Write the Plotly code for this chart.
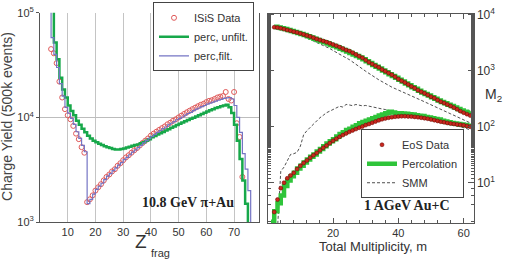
import plotly.graph_objects as go

W, H = 507, 265

# ---------------- left panel data ----------------
isis_z = list(range(4, 74))
isis_y = [45000, 41000, 33000, 22000, 15500, 12000, 10500, 9600, 8300, 7000,
          6200, 5200, 4600, 1550, 1650, 1800, 2000, 2150, 2300, 2500,
          2700, 2850, 3050, 3200, 3450, 3650, 3900, 4150, 4350, 4600,
          4850, 5100, 5400, 5700, 6000, 6300, 6700, 7000, 7300, 7600,
          7900, 8200, 8600, 8900, 9300, 9600, 10000, 10400, 10800, 11200,
          11600, 12000, 12400, 12800, 13200, 13500, 14000, 14400, 14600, 15000,
          15500, 15800, 16000, 17500, 15000, 14500, 17500, 8800, 6500, 2700]

unf_z = list(range(4, 76))
unf_y = [200000, 52000, 36000, 24000, 18500, 15500, 13000, 11500, 10500, 9300,
         8500, 7800, 7200, 6700, 6300, 6000, 5800, 5600, 5450, 5300,
         5200, 5100, 5000, 4950, 4950, 5000, 5050, 5150, 5250, 5350,
         5450, 5500, 5650, 5800, 6000, 6200, 6450, 6650, 6850, 7050,
         7250, 7500, 7700, 7950, 8200, 8450, 8700, 8950, 9200, 9450,
         9700, 9950, 10200, 10500, 10800, 11100, 11400, 11700, 12000, 12300,
         12500, 12800, 13000, 13200, 12500, 11000, 8500, 6000, 4000, 2500,
         1500, 800]

filt_z = list(range(3, 77))
filt_y = [200000, 58000, 40000, 30000, 21000, 16000, 12500, 11000, 9800, 8600,
          7300, 6300, 5400, 4700, 1500, 1650, 1850, 2050, 2200, 2350,
          2550, 2750, 2900, 3100, 3300, 3500, 3700, 3950, 4150, 4400,
          4650, 4900, 5150, 5400, 5700, 6000, 6300, 6600, 6900, 7200,
          7500, 7800, 8100, 8500, 8800, 9100, 9500, 9800, 10100, 10500,
          10900, 11200, 11600, 12000, 12300, 12700, 13000, 13400, 13700, 14000,
          14300, 14600, 14900, 15200, 15400, 15500, 15000, 13000, 10000, 7200,
          4500, 3200, 2000, 800]

# ---------------- right panel data ----------------
m = list(range(2, 63))
eos_up = [6000, 5900, 5750, 5550, 5350, 5200, 5000, 4850, 4650, 4450,
          4250, 4100, 3900, 3700, 3550, 3400, 3250, 3100, 2950, 2800,
          2650, 2500, 2350, 2250, 2100, 1950, 1820, 1700, 1550, 1420,
          1320, 1230, 1150, 1050, 980, 910, 850, 780, 710, 660,
          615, 570, 525, 490, 450, 420, 395, 370, 345, 325,
          300, 280, 265, 250, 235, 220, 205, 190, 178, 168, 158]
perc_up = [6100, 5950, 5750, 5550, 5350, 5150, 4950, 4750, 4550, 4350,
           4150, 3950, 3750, 3550, 3380, 3220, 3060, 2900, 2760, 2620,
           2480, 2340, 2200, 2080, 1960, 1840, 1720, 1600, 1480, 1370,
           1270, 1180, 1100, 1010, 940, 870, 810, 750, 690, 640,
           595, 550, 510, 475, 440, 410, 385, 360, 335, 315,
           295, 278, 262, 248, 234, 220, 208, 196, 186, 180, 190]
smm_up = [6000, 5800, 5600, 5420, 5250, 5000, 4800, 4600, 4350, 4100,
          3900, 3680, 3450, 3200, 3000, 2850, 2700, 2500, 2300, 2150,
          2000, 1850, 1700, 1580, 1450, 1320, 1200, 1080, 980, 890,
          810, 750, 690, 640, 590, 550, 510, 480, 450, 425,
          400, 375, 355, 335, 315, 297, 280, 265, 250, 235,
          220, 207, 195, 182, 170, 160, 150, 141, 132, 124, 117]
eos_lo = [3.0, 5.0, 8.0, 10, 12, 13.5, 15, 17.5, 20, 22.5,
          25, 28, 31, 34, 38, 42, 46, 51, 56, 61,
          66, 71, 76, 81, 86, 91, 96, 101, 107, 112,
          118, 124, 130, 136, 141, 145, 148, 151, 153, 154,
          154, 153, 152, 150, 148, 145, 142, 139, 135, 131,
          127, 123, 120, 117, 114, 112, 110, 108, 106, 103, 100]
perc_lo_m = list(range(1, 63))
perc_lo = [2.0, 3.1, 4.3, 5.9, 8.7, 11, 13, 15, 18, 20,
           23, 26, 29, 32, 36, 40, 45, 50, 55, 60,
           67, 74, 80, 87, 92, 100, 106, 115, 122, 128,
           135, 142, 150, 158, 166, 175, 185, 180, 175, 174,
           172, 170, 168, 165, 160, 157, 155, 150, 146, 142,
           138, 134, 128, 124, 120, 117, 114, 112, 110, 107, 104, 100]
smm_lo_m = list(range(3, 63))
smm_lo = [1.5, 16, 19, 25, 32, 33, 35, 45, 72, 85,
          98, 112, 128, 145, 160, 178, 190, 205, 218, 232,
          225, 250, 245, 238, 250, 242, 236, 240, 232, 226,
          220, 214, 208, 203, 198, 192, 186, 180, 175, 170,
          165, 160, 155, 151, 147, 142, 138, 133, 129, 125,
          121, 117, 113, 109, 106, 102, 99, 96, 92, 88]

left_yticks = [1000, 10000, 100000]
left_yticktext = ["10<sup>3</sup>", "10<sup>4</sup>", "10<sup>5</sup>"]
left_xticks = [10, 20, 30, 40, 50, 60, 70]
right_yticks = [10, 100, 1000, 10000]
right_yticktext = ["10<sup>1</sup>", "10<sup>2</sup>", "10<sup>3</sup>", "10<sup>4</sup>"]
right_xticks = [20, 40, 60]


def px(x):
    return x / W


def py(y):
    return 1 - y / H


GREEN = "#17a84a"
BLUE = "#7474c4"
RED = "#e05a5a"
PGREEN = "#2fc43a"
fig = go.Figure()

# left traces
fig.add_trace(go.Scatter(x=isis_z, y=isis_y, mode="markers", name="ISiS Data",
                         marker=dict(symbol="circle-open", size=5, color=RED, line=dict(width=1)),
                         xaxis="x", yaxis="y", legend="legend"))
fig.add_trace(go.Scatter(x=unf_z, y=unf_y, mode="lines", name="perc, unfilt.",
                         line=dict(color=GREEN, width=2.5, shape="hv"),
                         xaxis="x", yaxis="y", legend="legend"))
fig.add_trace(go.Scatter(x=filt_z, y=filt_y, mode="lines", name="perc,filt.",
                         line=dict(color=BLUE, width=1.2, shape="hv"),
                         xaxis="x", yaxis="y", legend="legend"))

# right traces
fig.add_trace(go.Scatter(x=m, y=smm_up, mode="lines", name="SMM", showlegend=False,
                         line=dict(color="#222", width=0.8, dash="3px,2px"),
                         xaxis="x2", yaxis="y2", legend="legend2"))
fig.add_trace(go.Scatter(x=smm_lo_m, y=smm_lo, mode="lines", name="SMM",
                         line=dict(color="#222", width=0.8, dash="3px,2px"),
                         xaxis="x2", yaxis="y2", legend="legend2"))
fig.add_trace(go.Scatter(x=m, y=perc_up, mode="lines", name="Percolation", showlegend=False,
                         line=dict(color=PGREEN, width=4.5, shape="hv"),
                         xaxis="x2", yaxis="y2", legend="legend2"))
fig.add_trace(go.Scatter(x=perc_lo_m, y=perc_lo, mode="lines", name="Percolation",
                         line=dict(color=PGREEN, width=4.5, shape="hv"),
                         xaxis="x2", yaxis="y2", legend="legend2"))
fig.add_trace(go.Scatter(x=m, y=eos_up, mode="markers", name="EoS Data", showlegend=False,
                         marker=dict(symbol="circle", size=4, color="#c8281e", line=dict(width=0.5, color="#600")),
                         xaxis="x2", yaxis="y2", legend="legend2"))
fig.add_trace(go.Scatter(x=m, y=eos_lo, mode="markers", name="EoS Data",
                         marker=dict(symbol="circle", size=4, color="#c8281e", line=dict(width=0.5, color="#600")),
                         xaxis="x2", yaxis="y2", legend="legend2"))

FONT = "Liberation Sans, Arial, sans-serif"
AX = "#555"
fig.update_layout(
    width=W, height=H, margin=dict(l=0, r=0, t=0, b=0),
    paper_bgcolor="white", plot_bgcolor="white",
    font=dict(family=FONT, size=11, color="#333"),
    xaxis=dict(domain=[px(40), px(259)], range=[0, 79], tickvals=left_xticks,
               showgrid=True, gridcolor="#c4c4c4", gridwidth=1, zeroline=False,
               showline=True, linecolor=AX, linewidth=1, mirror=False, ticks="",
               tickfont=dict(size=11), anchor="y", ticklabeloverflow="allow"),
    yaxis=dict(domain=[py(226), py(5)], type="log", range=[3, 5.0005],
               tickvals=left_yticks, ticktext=left_yticktext,
               showgrid=True, gridcolor="#bdbdbd", zeroline=False,
               showline=True, linecolor=AX, linewidth=1, mirror=True,
               ticks="outside", ticklen=3, tickcolor=AX,
               tickfont=dict(size=11), anchor="x", ticklabeloverflow="allow"),
    xaxis2=dict(domain=[px(267.7), px(473.5)], range=[0, 63], tickvals=right_xticks,
                showgrid=False, zeroline=False, showline=True, linecolor=AX, linewidth=1,
                mirror="allticks", ticks="inside", ticklen=5, tickcolor=AX,
                minor=dict(ticks="inside", ticklen=3, dtick=4, tickcolor=AX),
                tickfont=dict(size=11), anchor="y2", ticklabeloverflow="allow"),
    yaxis2=dict(domain=[py(227), py(6)], type="log", range=[0.28, 4.02],
                tickvals=right_yticks, ticktext=right_yticktext, side="right",
                showgrid=False, zeroline=False, showline=True, linecolor=AX, linewidth=1,
                mirror="allticks", ticks="inside", ticklen=6, tickcolor=AX,
                minor=dict(ticks="inside", ticklen=3, tickcolor=AX),
                tickfont=dict(size=12), anchor="x2", ticklabeloverflow="allow"),
    legend=dict(x=px(153), y=py(-6), xanchor="left", yanchor="top",
                bgcolor="white", bordercolor="#444", borderwidth=1, itemwidth=30,
                font=dict(size=11, family=FONT, color="#333"), tracegroupgap=0),
    legend2=dict(x=px(361), y=py(128), xanchor="left", yanchor="top",
                 bgcolor="white", bordercolor="#444", borderwidth=1, itemwidth=30,
                 font=dict(size=11, family=FONT, color="#333"), traceorder="reversed"),
    showlegend=True,
)


def note(text, x, y, size, family=FONT, color="#333", angle=0):
    fig.add_annotation(text=text, x=px(x), y=py(y), xref="paper", yref="paper",
                       xanchor="center", yanchor="middle", showarrow=False, textangle=angle,
                       font=dict(size=size, family=family, color=color))


note("Charge Yield (500k events)", 7, 115, 14, color="#444", angle=-90)
note("Z", 141, 247, 19)
note("frag", 160, 259, 11)
note("Total Multiplicity, m", 373, 252, 13)
note("M<sub>2</sub>", 493, 92, 14)
note("<b>10.8 GeV π+Au</b>", 188, 205, 14, family="Liberation Serif, serif", color="#222")
note("<b>1 AGeV Au+C</b>", 407, 208, 14, family="Liberation Serif, serif", color="#222")

fig.write_html("out.html", config={"displayModeBar": False},
               post_script="document.body.style.margin='0';document.body.style.overflow='hidden';")
